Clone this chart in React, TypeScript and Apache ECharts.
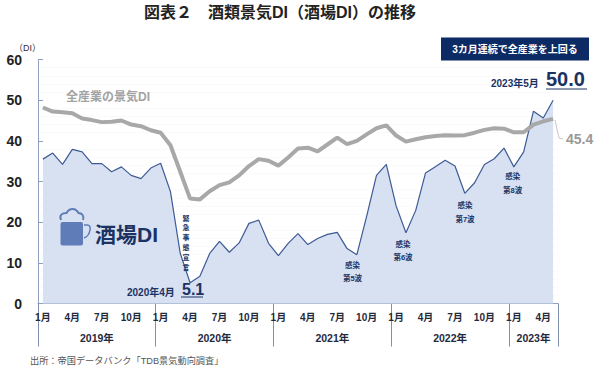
import React, { useEffect, useRef } from "react";
import * as echarts from "echarts";

const FONT = '"Liberation Sans", "Noto Sans CJK JP", sans-serif';
const NAVY = "#1b3263";
const monthNames = ["1月","2月","3月","4月","5月","6月","7月","8月","9月","10月","11月","12月"];
const months: string[] = [];
for (let i = 0; i < 53; i++) months.push(monthNames[i % 12]);

const sakabaDI = [
  35.5,37.0,34.2,37.9,37.3,34.4,34.4,32.4,33.6,31.5,30.7,33.3,
  34.5,27.5,12.3,5.1,6.7,12.3,15.3,12.6,14.9,19.7,20.5,14.8,
  11.8,14.8,17.2,14.5,16.0,17.0,17.5,13.5,12.0,21.5,31.5,34.2,
  24.0,17.4,22.9,32.1,33.6,35.2,33.8,27.1,29.7,34.2,35.6,38.2,
  33.6,37.3,47.3,45.6,50.0,
];
const allIndustryDI = [
  48.2,47.2,47.0,46.8,45.5,45.1,44.6,44.7,45.0,44.0,43.6,42.6,
  42.0,38.9,32.4,25.8,25.6,27.6,29.1,29.8,31.5,33.8,35.5,35.1,
  33.9,35.9,38.1,38.3,37.4,39.1,40.8,39.2,40.0,41.6,43.1,43.8,
  41.3,39.8,40.4,40.9,41.2,41.4,41.3,41.4,42.0,42.7,43.1,43.0,
  42.1,42.1,44.0,44.8,45.4,
];
const yearLabels = ["2019年","2020年","2021年","2022年","2023年"];
const yearCenters = [6, 18, 30, 42, 50.5];
const yearEdges = [0, 12, 24, 36, 48, 53];
const waves = [
  { text: "感染\n第5波", x: 352.5, y: 272 },
  { text: "感染\n第6波", x: 403, y: 251 },
  { text: "感染\n第7波", x: 465, y: 212.5 },
  { text: "感染\n第8波", x: 512.7, y: 183.5 },
];

const txt = (text: string, x: number, y: number, size: number, fill: string, weight: any = "normal", align = "left", extra: any = {}) => ({
  type: "text", x, y, silent: true, z: 100,
  style: { text, fontSize: size, fill, fontWeight: weight, align, verticalAlign: "middle", fontFamily: FONT, ...extra },
});

echarts.graphic.registerShape("foam", echarts.graphic.extendPath("M61 220 C59 215 62 213 66.5 213 C69 207.5 76 207.5 78.5 213 C82 213 84.5 216 83 220", {}));
echarts.graphic.registerShape("mugHandle", echarts.graphic.extendPath("M84 225 L87 225 C90 225 90.5 227 90 230 C89.5 234 87.5 236.5 84 238", {}));

export default function App() {
  const ref = useRef<HTMLDivElement>(null);
  useEffect(() => {
    const chart = echarts.init(ref.current!, undefined, { renderer: "svg" });
    chart.setOption({
      animation: false,
      backgroundColor: "#ffffff",
      textStyle: { fontFamily: FONT },
      grid: { left: 38, top: 59.5, width: 520, height: 244, containLabel: false },
      xAxis: [
        {
          type: "category", data: months, boundaryGap: true,
          axisLine: { show: true, lineStyle: { color: "#8fa0bf", width: 1 } },
          axisTick: { show: false },
          axisLabel: { interval: 2, fontSize: 10, fontWeight: "bold", color: "#1f2a3d", margin: 9, fontFamily: FONT },
          splitLine: { show: false },
        },
        {
          type: "value", min: 0, max: 53, position: "bottom",
          axisLine: { show: false },
          axisTick: { show: true, length: 43, inside: false, customValues: yearEdges, lineStyle: { color: "#7f8fae", width: 1 } },
          axisLabel: {
            customValues: yearCenters, fontSize: 10.5, fontWeight: "bold", color: "#1f2a3d", margin: 29, fontFamily: FONT,
            formatter: (v: number) => yearLabels[yearCenters.indexOf(v)] ?? "",
          },
          splitLine: { show: false },
        },
      ],
      yAxis: {
        type: "value", min: 0, max: 60, interval: 10,
        axisLine: { show: true, lineStyle: { color: "#8fa0bf", width: 1 } },
        axisTick: { show: true, inside: true, length: 5, lineStyle: { color: "#8fa0bf" } },
        axisLabel: { fontSize: 14, fontWeight: "bold", color: "#222222", margin: 16, fontFamily: FONT, padding: [0, 0, 3, 0] },
        splitLine: { show: false },
        minorTick: { show: false, splitNumber: 5 },
        minorSplitLine: { show: true, lineStyle: { color: "#fafafa", width: 1 } },
      },
      series: [
        {
          name: "酒場DI", type: "line", data: sakabaDI, symbol: "none", z: 2,
          lineStyle: { color: "#3d5a94", width: 1.2 },
          areaStyle: { color: "#d8e1f2", opacity: 1 },
        },
        {
          name: "全産業の景気DI", type: "line", data: allIndustryDI, symbol: "none", z: 3,
          lineStyle: { color: "#a8a8a8", width: 4 },
        },
      ],
      graphic: [
        txt("図表２　酒類景気DI（酒場DI）の推移", 144, 12, 16, "#222222", "bold"),
        { type: "rect", z: 100, shape: { x: 441, y: 37.5, width: 148, height: 23 }, style: { fill: "#0c2a63" } },
        txt("3カ月連続で全産業を上回る", 515, 49.5, 10, "#ffffff", "bold", "center"),
        txt("（DI）", 14, 48, 9, "#333333", "normal"),
        txt("全産業の景気DI", 66, 97, 12, "#a3a3a3", "bold"),
        txt("2023年5月", 491, 83, 10, NAVY, "bold"),
        txt("50.0", 546, 79, 20, NAVY, "bold"),
        { type: "line", z: 100, shape: { x1: 546, y1: 89, x2: 587, y2: 89 }, style: { stroke: NAVY, lineWidth: 1 } },
        { type: "polyline", z: 100, shape: { points: [[555, 120], [559, 138], [563, 139]] }, style: { stroke: "#c8c8c8", lineWidth: 1, fill: "none" } },
        txt("45.4", 566, 138.5, 14, "#999999", "bold"),
        txt("2020年4月", 127, 292, 10, NAVY, "bold"),
        txt("5.1", 182, 289, 16, NAVY, "bold"),
        { type: "line", z: 100, shape: { x1: 181, y1: 297, x2: 203, y2: 297 }, style: { stroke: NAVY, lineWidth: 1 } },
        txt("緊\n急\n事\n態\n宣\n言", 186, 242.5, 7, NAVY, "bold", "center", { lineHeight: 9.8 }),
        ...waves.map((w) => txt(w.text, w.x, w.y, 7.5, NAVY, "bold", "center", { lineHeight: 13.2 })),
        { type: "rect", z: 100, shape: { x: 60.5, y: 222, width: 22.5, height: 23.5, r: 2 }, style: { fill: "#5f7cb8" } },
        { type: "foam", z: 100, x: 0, y: 0, style: { fill: "none", stroke: "#5f7cb8", lineWidth: 2 } },
        { type: "mugHandle", z: 100, x: 0, y: 0, style: { fill: "none", stroke: "#5f7cb8", lineWidth: 1.5 } },
        txt("酒場DI", 95, 234, 21, NAVY, "bold"),
        txt("出所：帝国データバンク「TDB景気動向調査」", 30, 361, 9.2, "#555555"),
      ],
    });
    return () => chart.dispose();
  }, []);
  return (
    <div style={{ position: "fixed", left: 0, top: 0, width: 600, height: 375 }}>
      <div ref={ref} style={{ width: 600, height: 375 }} />
    </div>
  );
}
